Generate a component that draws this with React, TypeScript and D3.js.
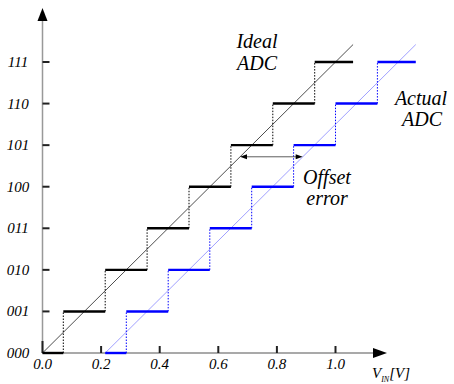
import React from 'react';
import * as d3 from 'd3';

const codeLabels = ['000', '001', '010', '011', '100', '101', '110', '111'];
const xTicks = [0, 0.2, 0.4, 0.6, 0.8, 1.0];

// ideal converter: code k starts at idealEdges[k]
const idealEdges = [0, 0.071, 0.214, 0.357, 0.5, 0.643, 0.786, 0.929];
const idealEnd = 1.06;
// actual converter (shifted by the offset)
const actualEdges = [0.214, 0.286, 0.429, 0.571, 0.714, 0.857, 1.0, 1.143];
const actualEnd = 1.274;
const idealLine = [[0, 0], [1.06, 7.42]];
const actualLine = [[0.214, 0], [1.274, 7.42]];
const offsetArrow = { code: 4.72, from: 0.674, to: 0.888 };

const W = 454;
const H = 384;
const SERIF = 'Liberation Serif';

const App: React.FC = () => {
  const x = d3.scaleLinear().domain([0, 1]).range([42.5, 335.5]);
  const y = d3.scaleLinear().domain([0, 7]).range([353, 62]);
  const line = d3.line<number[]>().x(d => x(d[0])).y(d => y(d[1]));

  const steps = (edges: number[], end: number, color: string, keyp: string) => {
    const out: JSX.Element[] = [];
    edges.forEach((e, k) => {
      const next = k < edges.length - 1 ? edges[k + 1] : end;
      out.push(
        <line key={`${keyp}h${k}`} x1={x(e)} x2={x(next)} y1={y(k)} y2={y(k)}
          stroke={color} strokeWidth={2.4} />
      );
      if (k > 0) {
        out.push(
          <line key={`${keyp}v${k}`} x1={x(e)} x2={x(e)} y1={y(k - 1)} y2={y(k)}
            stroke={color} strokeWidth={1} strokeDasharray="1.5,1.5" />
        );
      }
    });
    return out;
  };

  const label = (key: string, tx: number, ty: number, s: string, size: number) => (
    <text key={key} x={tx} y={ty} fontFamily={SERIF} fontStyle="italic" fontSize={size} textAnchor="middle">{s}</text>
  );

  const ay = y(offsetArrow.code);
  const ax1 = x(offsetArrow.from);
  const ax2 = x(offsetArrow.to);

  return (
    <svg width={W} height={H} style={{ position: 'absolute', left: 0, top: 0, background: '#fff' }}>
      {/* axes */}
      <line x1={x(0)} x2={x(0)} y1={y(0)} y2={20} stroke="#999" strokeWidth={1.5} />
      <path d={`M${x(0)},8 L${x(0) - 5},21 L${x(0) + 5},21 Z`} fill="#000" />
      <line x1={x(0)} x2={374} y1={y(0)} y2={y(0)} stroke="#555" strokeWidth={1.2} />
      <path d={`M387,${y(0)} L373,${y(0) - 5} L373,${y(0) + 5} Z`} fill="#000" />

      {codeLabels.map((c, i) => (
        <g key={c}>
          {i > 0 && <line x1={x(0)} x2={x(0) + 7} y1={y(i)} y2={y(i)} stroke="#222" strokeWidth={2} />}
          {label('l' + c, 18, y(i) + 5, c, 15)}
        </g>
      ))}
      {xTicks.map(t => (
        <g key={t}>
          <line x1={x(t)} x2={x(t)} y1={y(0)} y2={t === 0 ? y(0) - 12 : y(0) - 7} stroke="#222" strokeWidth={2} />
          {label('t' + t, x(t), 369, t.toFixed(1), 15)}
        </g>
      ))}
      <text x={372} y={378} fontFamily={SERIF} fontStyle="italic" fontSize={15}>
        V<tspan fontSize={8} dy={4}>IN</tspan><tspan dy={-4}>[V]</tspan>
      </text>

      {/* transfer lines */}
      <path d={line(idealLine) || ''} fill="none" stroke="#000" strokeWidth={0.7} />
      <path d={line(actualLine) || ''} fill="none" stroke="#8888ff" strokeWidth={0.8} />
      {steps(idealEdges, idealEnd, '#000', 'i')}
      {steps(actualEdges, actualEnd, '#0000ff', 'a')}

      {/* offset arrow */}
      <line x1={ax1 + 4} x2={ax2 - 4} y1={ay} y2={ay} stroke="#333" strokeWidth={0.8} />
      <path d={`M${ax1},${ay} L${ax1 + 7},${ay - 2.5} L${ax1 + 7},${ay + 2.5} Z`} fill="#000" />
      <path d={`M${ax2},${ay} L${ax2 - 7},${ay - 2.5} L${ax2 - 7},${ay + 2.5} Z`} fill="#000" />

      {/* annotations */}
      {label('a1', 257, 48, 'Ideal', 20)}
      {label('a2', 257, 70, 'ADC', 20)}
      {label('a3', 421, 105, 'Actual', 20)}
      {label('a4', 422, 126, 'ADC', 20)}
      {label('a5', 327, 184, 'Offset', 20)}
      {label('a6', 327, 205, 'error', 20)}
    </svg>
  );
};

export default App;
